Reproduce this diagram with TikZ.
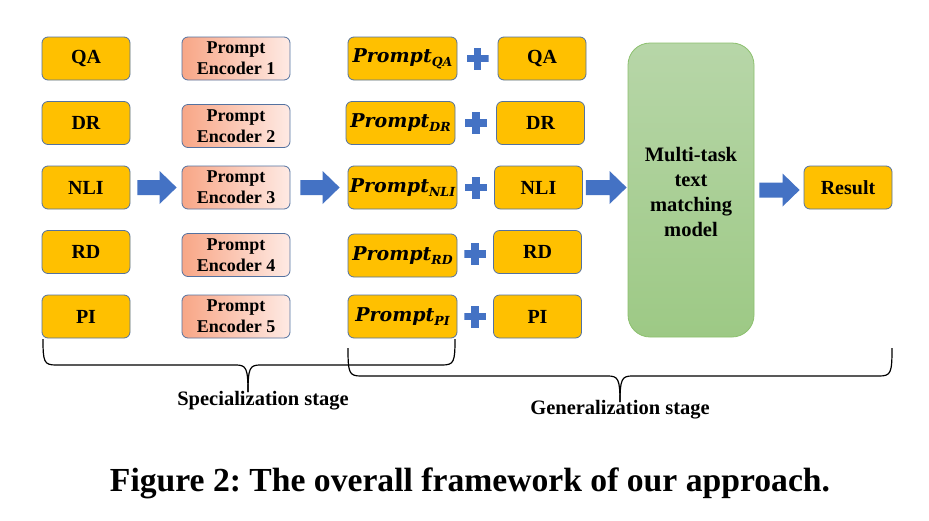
\documentclass[tikz,border=0pt]{standalone}
\usepackage{fontspec}
\setmainfont{Liberation Serif}
\newfontfamily\promptfont{DejaVu Serif}
\usetikzlibrary{calc}
\frenchspacing
\definecolor{boxgold}{RGB}{255,192,0}
\definecolor{boxedge}{RGB}{84,114,160}
\definecolor{arrowblue}{RGB}{68,114,196}
\definecolor{encleft}{RGB}{248,166,134}
\definecolor{encright}{RGB}{254,234,228}
\definecolor{greentop}{RGB}{183,214,168}
\definecolor{greenbot}{RGB}{157,201,133}
\definecolor{greenedge}{RGB}{140,192,110}
% block arrow: from node, to node, gap after from, gap before to
\newcommand{\blockarrow}[4]{%
\path[fill=arrowblue] let \p1=($(#1.east)+(#3pt,0)$), \p2=($(#2.west)-(#4pt,0)$) in
 (\x1,{\y1+7.5pt}) -- ({\x2-17pt},{\y1+7.5pt}) -- ({\x2-17pt},{\y1+16.5pt}) -- (\x2,\y1)
 -- ({\x2-17pt},{\y1-16.5pt}) -- ({\x2-17pt},{\y1-7.5pt}) -- (\x1,{\y1-7.5pt}) -- cycle;}
\newcommand{\promptsub}[1]{Prompt\raisebox{-4pt}{\fontsize{12.5}{14}\selectfont #1}}
\tikzset{
 task/.style={rectangle, rounded corners=6pt, fill=boxgold, draw=boxedge, line width=0.8pt,
   minimum width=88pt, minimum height=43pt, inner sep=0pt,
   font=\fontsize{20}{24}\selectfont\bfseries},
 enc/.style={rectangle, rounded corners=6pt, left color=encleft, right color=encright,
   draw=boxedge, line width=0.8pt, minimum width=108pt, minimum height=43pt, inner sep=0pt,
   align=center, font=\fontsize{18}{21}\selectfont\bfseries},
 prm/.style={task, minimum width=109pt, font=\promptfont\fontsize{19}{22}\selectfont\bfseries\itshape},
 plussign/.style={minimum size=22pt, inner sep=0pt,
   path picture={
     \fill[arrowblue] ([shift={(-11pt,-3.8pt)}]path picture bounding box.center) rectangle ([shift={(11pt,3.8pt)}]path picture bounding box.center);
     \fill[arrowblue] ([shift={(-3.8pt,-11pt)}]path picture bounding box.center) rectangle ([shift={(3.8pt,11pt)}]path picture bounding box.center);}},
 model/.style={rectangle, rounded corners=22pt, top color=greentop, bottom color=greenbot,
   draw=greenedge, line width=0.8pt, minimum width=126pt, minimum height=294pt, inner sep=0pt},
 label/.style={font=\fontsize{20.5}{25}\selectfont\bfseries, align=center, inner sep=0pt},
 brace/.style={line width=1.2pt, black},
}
\begin{document}
\begin{tikzpicture}[x=1pt,y=-1pt]
\useasboundingbox[fill=white] (0,0) rectangle (929,520);
% column 1
\node[task] (t1) at (86,58.5) {QA};
\node[task] (t2) at (86,123) {DR};
\node[task] (t3) at (86,187.5) {NLI};
\node[task] (t4) at (86,252) {RD};
\node[task] (t5) at (86,316.5) {PI};
% column 2
\node[enc] (e1) at (236,58.5) {Prompt\\Encoder 1};
\node[enc] (e2) at (236,126) {Prompt\\Encoder 2};
\node[enc] (e3) at (236,187.5) {Prompt\\Encoder 3};
\node[enc] (e4) at (236,255) {Prompt\\Encoder 4};
\node[enc] (e5) at (236,316.5) {Prompt\\Encoder 5};
% column 3
\node[prm] (p1) at (402.5,58.5) {\promptsub{QA}};
\node[prm] (p2) at (400.5,123) {\promptsub{DR}};
\node[prm] (p3) at (402.5,187.5) {\promptsub{NLI}};
\node[prm] (p4) at (402.5,255.5) {\promptsub{RD}};
\node[prm] (p5) at (402.5,316.5) {\promptsub{PI}};
% column 4
\node[task] (q1) at (542,58.5) {QA};
\node[task] (q2) at (540.5,123) {DR};
\node[task] (q3) at (538.5,187.5) {NLI};
\node[task] (q4) at (537.5,252) {RD};
\node[task] (q5) at (537.5,316.5) {PI};
% plus signs
\foreach \i in {1,...,5} {
  \node[plussign] (plus\i) at ($(p\i.east)!0.5!(q\i.west)$) {};
}
% model and result
\node[model] (mdl) at (691,190) {};
\node[label] (mdltext) at (691,192) {Multi-task\\text\\matching\\model};
\node[task] (res) at (848,187.5) {Result};
% block arrows
\blockarrow{t3}{e3}{7}{5}
\blockarrow{e3}{p3}{10}{8}
\blockarrow{q3}{mdl}{3}{1}
\blockarrow{mdl}{res}{5}{4}
% braces
\coordinate (sA) at (43,339);
\coordinate (sB) at (455,339);
\coordinate (sTip) at (248,392);
\draw[brace] (sA) .. controls (43,362) and (44,365) .. (56,365) -- (236,365)
  .. controls (246,365) and (248,368) .. (sTip);
\draw[brace] (sTip) .. controls (248,368) and (250,365) .. (260,365) -- (442,365)
  .. controls (454,365) and (455,362) .. (sB);
\coordinate (gA) at (348,348);
\coordinate (gB) at (892,348);
\coordinate (gTip) at (620,402);
\draw[brace] (gA) .. controls (348,373) and (349,376) .. (361,376) -- (608,376)
  .. controls (618,376) and (620,379) .. (gTip);
\draw[brace] (gTip) .. controls (620,379) and (622,376) .. (632,376) -- (879,376)
  .. controls (891,376) and (892,373) .. (gB);
\node[label] (spec) at (263,401) {Specialization stage};
\node[label] (gen) at (620,410) {Generalization stage};
% caption
\node[inner sep=0pt, anchor=base] (cap) at (470,491) {\resizebox{720pt}{!}{\fontsize{33}{40}\selectfont\bfseries Figure 2: The overall framework of our approach.}};
\end{tikzpicture}
\end{document}
